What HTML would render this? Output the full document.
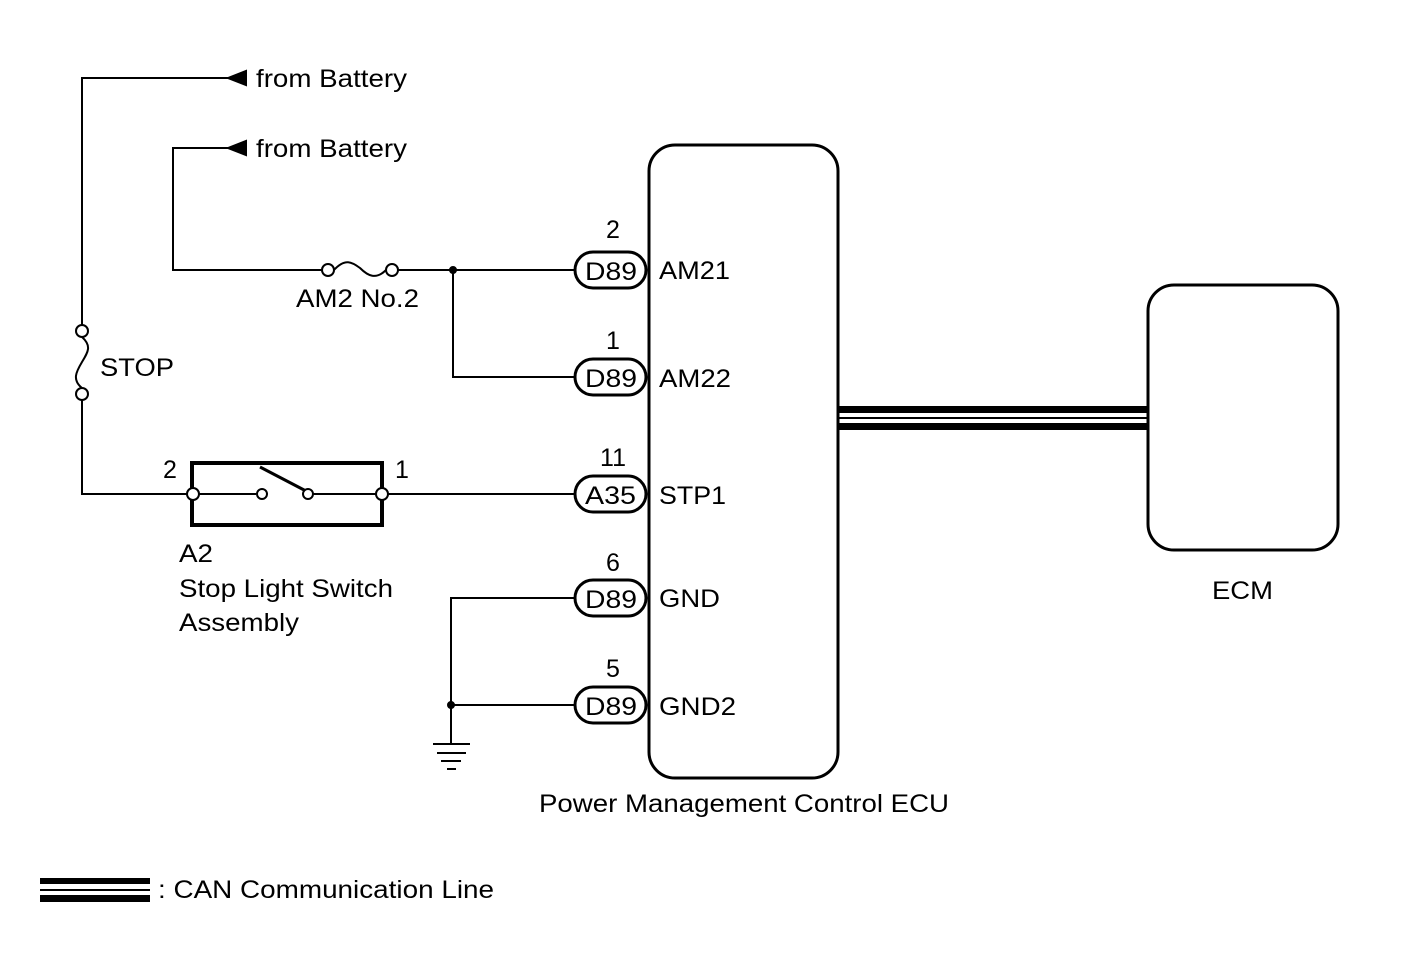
<!DOCTYPE html>
<html><head><meta charset="utf-8"><style>
html,body{margin:0;padding:0;background:#fff;}
svg{display:block;}
text{font-family:"Liberation Sans",Arial,sans-serif;font-size:25px;fill:#000;}
</style></head><body>
<svg width="1424" height="959" viewBox="0 0 1424 959" xmlns="http://www.w3.org/2000/svg">
<g fill="none" stroke="#000" stroke-width="2">
<polyline points="246,78 82,78 82,325"/>
<polygon points="228,78 246,71 246,85" fill="#000"/>
<polyline points="246,148 173,148 173,270 322,270"/>
<polygon points="228,148 246,141 246,155" fill="#000"/>
<circle cx="328" cy="270" r="6" fill="#fff"/>
<circle cx="392" cy="270" r="6" fill="#fff"/>
<path d="M334,270 C345,258 352,262 360,268 C368,276 376,280 386,270"/>
<line x1="398" y1="270" x2="575" y2="270"/>
<polyline points="453,270 453,377 575,377"/>
<circle cx="453" cy="270" r="3" fill="#000"/>
<circle cx="82" cy="331" r="6" fill="#fff"/>
<circle cx="82" cy="394" r="6" fill="#fff"/>
<path d="M82,337 C92,346 88,352 82,362 C76,372 72,380 82,388"/>
<polyline points="82,400 82,494 187,494"/>
<rect x="192" y="463" width="190" height="62" stroke-width="4"/>
<circle cx="193" cy="494" r="6" fill="#fff"/>
<circle cx="382" cy="494" r="6" fill="#fff"/>
<line x1="199" y1="494" x2="256" y2="494"/>
<circle cx="262" cy="494" r="5" fill="#fff"/>
<line x1="260" y1="467" x2="306" y2="491" stroke-width="3"/>
<circle cx="308" cy="494" r="5" fill="#fff"/>
<line x1="313" y1="494" x2="376" y2="494"/>
<line x1="388" y1="494" x2="575" y2="494"/>
<polyline points="575,598 451,598 451,743"/>
<line x1="451" y1="705" x2="575" y2="705"/>
<circle cx="451" cy="705" r="3" fill="#000"/>
<line x1="433" y1="744" x2="470" y2="744"/>
<line x1="437" y1="753" x2="466" y2="753"/>
<line x1="441" y1="761" x2="461" y2="761"/>
<line x1="447" y1="769" x2="456" y2="769"/>
<rect x="649" y="145" width="189" height="633" rx="26" stroke-width="3"/>
<rect x="1148" y="285" width="190" height="265" rx="26" stroke-width="3"/>
<rect x="575" y="252" width="71" height="36" rx="18" stroke-width="3" fill="#fff"/>
<rect x="575" y="359" width="71" height="36" rx="18" stroke-width="3" fill="#fff"/>
<rect x="575" y="476" width="71" height="36" rx="18" stroke-width="3" fill="#fff"/>
<rect x="575" y="580" width="71" height="36" rx="18" stroke-width="3" fill="#fff"/>
<rect x="575" y="687" width="71" height="36" rx="18" stroke-width="3" fill="#fff"/>
</g>
<rect x="839" y="406" width="309" height="7" fill="#000"/>
<rect x="839" y="417" width="309" height="2" fill="#000"/>
<rect x="839" y="423" width="309" height="7" fill="#000"/>
<rect x="40" y="878" width="110" height="6" fill="#000"/>
<rect x="40" y="889" width="110" height="2" fill="#000"/>
<rect x="40" y="895" width="110" height="7" fill="#000"/>
<text x="256" y="87" textLength="151" lengthAdjust="spacingAndGlyphs">from Battery</text>
<text x="256" y="157" textLength="151" lengthAdjust="spacingAndGlyphs">from Battery</text>
<text x="296" y="307" textLength="123" lengthAdjust="spacingAndGlyphs">AM2 No.2</text>
<text x="100" y="376" textLength="74" lengthAdjust="spacingAndGlyphs">STOP</text>
<text x="163" y="478">2</text>
<text x="395" y="478">1</text>
<text x="179" y="562" textLength="34" lengthAdjust="spacingAndGlyphs">A2</text>
<text x="179" y="597" textLength="214" lengthAdjust="spacingAndGlyphs">Stop Light Switch</text>
<text x="179" y="631" textLength="120" lengthAdjust="spacingAndGlyphs">Assembly</text>
<text x="613" y="238" text-anchor="middle">2</text>
<text x="613" y="349" text-anchor="middle">1</text>
<text x="613" y="466" text-anchor="middle">11</text>
<text x="613" y="571" text-anchor="middle">6</text>
<text x="613" y="677" text-anchor="middle">5</text>
<text x="585" y="280" textLength="52" lengthAdjust="spacingAndGlyphs">D89</text>
<text x="585" y="387" textLength="52" lengthAdjust="spacingAndGlyphs">D89</text>
<text x="585" y="504" textLength="51" lengthAdjust="spacingAndGlyphs">A35</text>
<text x="585" y="608" textLength="52" lengthAdjust="spacingAndGlyphs">D89</text>
<text x="585" y="715" textLength="52" lengthAdjust="spacingAndGlyphs">D89</text>
<text x="659" y="279" textLength="71" lengthAdjust="spacingAndGlyphs">AM21</text>
<text x="659" y="387" textLength="72" lengthAdjust="spacingAndGlyphs">AM22</text>
<text x="659" y="504" textLength="67" lengthAdjust="spacingAndGlyphs">STP1</text>
<text x="659" y="607" textLength="61" lengthAdjust="spacingAndGlyphs">GND</text>
<text x="659" y="715" textLength="77" lengthAdjust="spacingAndGlyphs">GND2</text>
<text x="539" y="812" textLength="410" lengthAdjust="spacingAndGlyphs">Power Management Control ECU</text>
<text x="1212" y="599" textLength="61" lengthAdjust="spacingAndGlyphs">ECM</text>
<text x="158" y="898" textLength="336" lengthAdjust="spacingAndGlyphs">: CAN Communication Line</text>
</svg>
</body></html>
